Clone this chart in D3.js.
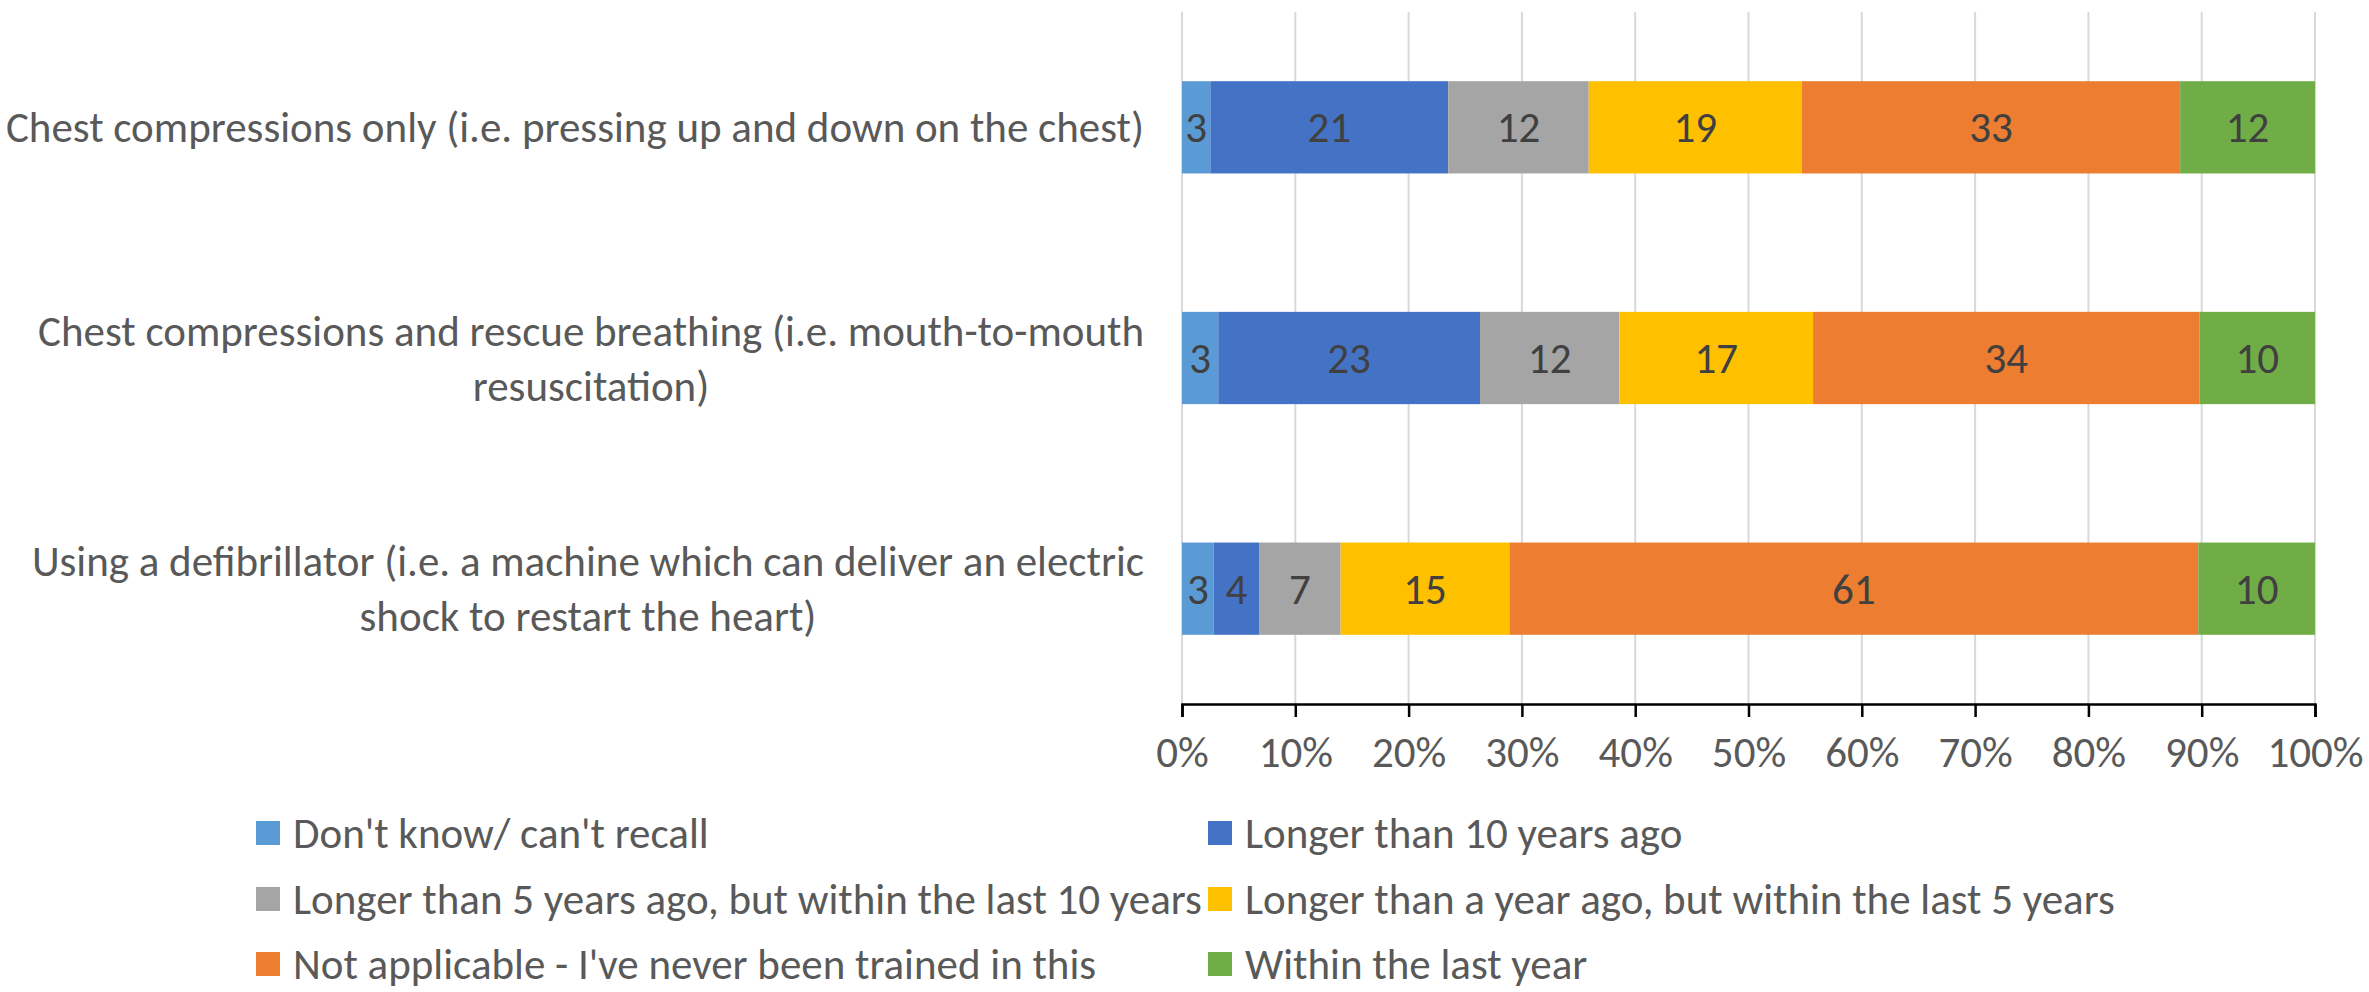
<!DOCTYPE html>
<html>
<head>
<meta charset="utf-8">
<script src="https://cdn.jsdelivr.net/npm/d3@7"></script>
<style>
  html, body { margin: 0; padding: 0; background: #ffffff; }
  svg { display: block; }
  text { font-family: Carlito, Calibri, Lato, "Open Sans", sans-serif; }
</style>
</head>
<body>
<svg id="chart" width="2369" height="992"></svg>
<script>
// ---- data ----
const categories = [
  ["Chest compressions only (i.e. pressing up and down on the chest)"],
  ["Chest compressions and rescue breathing (i.e. mouth-to-mouth", "resuscitation)"],
  ["Using a defibrillator (i.e. a machine which can deliver an electric", "shock to restart the heart)"]
];
const seriesNames = [
  "Don't know/ can't recall",
  "Longer than 10 years ago",
  "Longer than 5 years ago, but within the last 10 years",
  "Longer than a year ago, but within the last 5 years",
  "Not applicable - I've never been trained in this",
  "Within the last year"
];
const dontKnow      = [2.5, 3.2, 2.8];
const over10Years   = [21.0, 23.1, 4.0];
const fiveTo10Years = [12.4, 12.3, 7.2];
const oneTo5Years   = [18.8, 17.1, 14.9];
const notApplicable = [33.4, 34.1, 60.8];
const lastYear      = [11.9, 10.2, 10.3];
const dataLabels = [
  [3, 21, 12, 19, 33, 12],
  [3, 23, 12, 17, 34, 10],
  [3, 4, 7, 15, 61, 10]
];
const tickValues = [0, 10, 20, 30, 40, 50, 60, 70, 80, 90, 100];
const colors = ["#5B9BD5", "#4472C4", "#A5A5A5", "#FFC000", "#ED7D31", "#70AD47"];

// ---- layout ----
const svg = d3.select("#chart");
const plot = { left: 1182, right: 2315, top: 12, bottom: 704 };
const fontSize = 43;

const x = d3.scaleLinear().domain([0, 100]).range([plot.left, plot.right]);
const y = d3.scaleBand().domain(d3.range(categories.length)).range([plot.top, plot.bottom]).paddingInner(0.6).paddingOuter(0.3);

const seriesArrays = [dontKnow, over10Years, fiveTo10Years, oneTo5Years, notApplicable, lastYear];
const rows = categories.map((c, i) => {
  const o = { idx: i };
  seriesArrays.forEach((arr, s) => { o["s" + s] = arr[i]; });
  return o;
});
const stack = d3.stack().keys(seriesArrays.map((_, s) => "s" + s));
const stacked = stack(rows);

// gridlines
svg.append("g")
  .selectAll("line")
  .data(tickValues)
  .join("line")
  .attr("x1", d => x(d)).attr("x2", d => x(d))
  .attr("y1", plot.top).attr("y2", plot.bottom)
  .attr("stroke", "#d9d9d9").attr("stroke-width", 2);

// bars
const layers = svg.append("g").selectAll("g")
  .data(stacked)
  .join("g")
  .attr("fill", (d, i) => colors[i]);

layers.selectAll("rect")
  .data(d => d.map(v => ({ v, key: d.key })))
  .join("rect")
  .attr("x", d => x(d.v[0]))
  .attr("width", d => x(d.v[1]) - x(d.v[0]))
  .attr("y", d => y(d.v.data.idx))
  .attr("height", y.bandwidth());

// data labels
stacked.forEach((layer, s) => {
  svg.append("g").selectAll("text")
    .data(layer)
    .join("text")
    .attr("x", d => (x(d[0]) + x(d[1])) / 2)
    .attr("y", d => y(d.data.idx) + y.bandwidth() / 2)
    .attr("dy", "0.35em")
    .attr("text-anchor", "middle")
    .attr("font-size", fontSize)
    .attr("fill", "#404040")
    .text(d => dataLabels[d.data.idx][s]);
});

// x axis
const xAxis = d3.axisBottom(x).tickValues(tickValues).tickFormat(d => d + "%").tickSize(13).tickPadding(19);
const ax = svg.append("g").attr("transform", `translate(0,${plot.bottom})`).call(xAxis);
ax.select(".domain").attr("stroke", "#000").attr("stroke-width", 2.5);
ax.selectAll(".tick line").attr("stroke", "#000").attr("stroke-width", 2.5);
ax.selectAll(".tick text").attr("font-size", fontSize).attr("fill", "#595959")
  .attr("font-family", "Carlito, Calibri, Lato, 'Open Sans', sans-serif");

// category labels
const labelRight = 1144;
const lineH = 55;
categories.forEach((lines, i) => {
  const g = svg.append("g");
  const cy = y(i) + y.bandwidth() / 2;
  const texts = g.selectAll("text").data(lines).join("text")
    .attr("font-size", fontSize)
    .attr("fill", "#595959")
    .attr("text-anchor", "middle")
    .attr("dy", "0.35em")
    .text(d => d);
  let maxW = 0;
  texts.each(function () { maxW = Math.max(maxW, this.getComputedTextLength()); });
  const cx = labelRight - maxW / 2;
  texts.attr("x", cx)
    .attr("y", (d, j) => cy + (j - (lines.length - 1) / 2) * lineH);
});

// legend
const legendCols = [256, 1208];
const legendRows = [833, 899, 964];
const leg = svg.append("g").selectAll("g")
  .data(seriesNames)
  .join("g")
  .attr("transform", (d, i) => `translate(${legendCols[i % 2]},${legendRows[Math.floor(i / 2)]})`);
leg.append("rect")
  .attr("x", 0).attr("y", -12).attr("width", 24).attr("height", 24)
  .attr("fill", (d, i) => colors[i]);
leg.append("text")
  .attr("x", 37).attr("dy", "0.35em")
  .attr("font-size", fontSize)
  .attr("fill", "#595959")
  .text(d => d);
</script>
</body>
</html>
